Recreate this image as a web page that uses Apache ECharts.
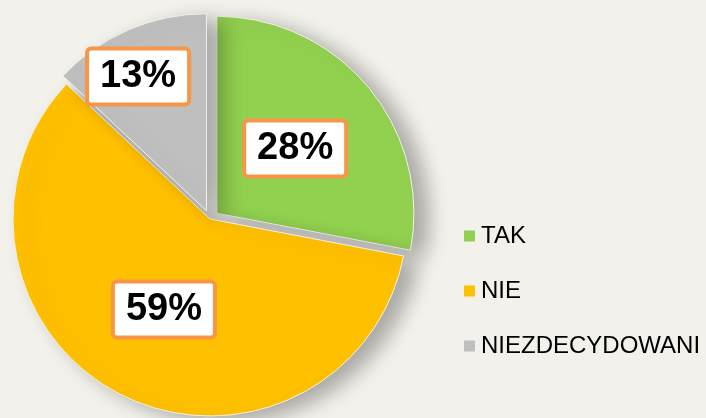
<!DOCTYPE html>
<html>
<head>
<meta charset="utf-8">
<script src="https://cdn.jsdelivr.net/npm/echarts@6/dist/echarts.min.js"></script>
<style>
  html, body { margin: 0; padding: 0; background: #f2f1eb; }
  #chart { width: 706px; height: 418px; }
</style>
</head>
<body>
<div id="chart"></div>
<script>
const categories = ["TAK", "NIE", "NIEZDECYDOWANI"];
const values = [28, 59, 13];
const colors = ["#92d050", "#ffc000", "#bfbfbf"];
const exploded = [true, false, true];

const chart = echarts.init(document.getElementById("chart"));

const pieData = categories.map((name, i) => ({
    name,
    value: values[i],
    selected: exploded[i],
    itemStyle: { color: colors[i] }
}));

chart.setOption({
    backgroundColor: "#f2f1eb",
    animation: false,
    legend: {
        orient: "vertical",
        left: 457,
        top: 219,
        itemWidth: 13,
        itemHeight: 13,
        itemGap: 31,
        icon: "rect",
        selectedMode: false,
        textStyle: {
            fontFamily: "Liberation Sans",
            fontSize: 24,
            lineHeight: 24,
            color: "#000"
        },
        data: categories
    },
    series: [
        {
            type: "pie",
            center: [210, 219],
            radius: 197,
            startAngle: 90,
            clockwise: true,
            selectedMode: "multiple",
            selectedOffset: 9,
            emphasis: { disabled: true },
            itemStyle: {
                borderColor: "#f2f1eb",
                borderWidth: 1,
                shadowBlur: 20,
                shadowOffsetX: 14,
                shadowOffsetY: 6,
                shadowColor: "rgba(0,0,0,0.3)"
            },
            label: {
                position: "inside",
                formatter: "{c}%",
                fontFamily: "Liberation Sans",
                fontWeight: "bold",
                fontSize: 38,
                lineHeight: 42,
                color: "#000",
                backgroundColor: "#fff",
                borderColor: "#f79646",
                borderWidth: 4,
                borderRadius: 2,
                padding: [5, 11, 5, 11]
            },
            labelLine: { show: false },
            labelLayout: function (params) {
                // grey label sits further out toward the rim
                if (params.dataIndex === 2) return { dx: -28, dy: -41 };
                return {};
            },
            data: pieData
        }
    ]
});
</script>
</body>
</html>
